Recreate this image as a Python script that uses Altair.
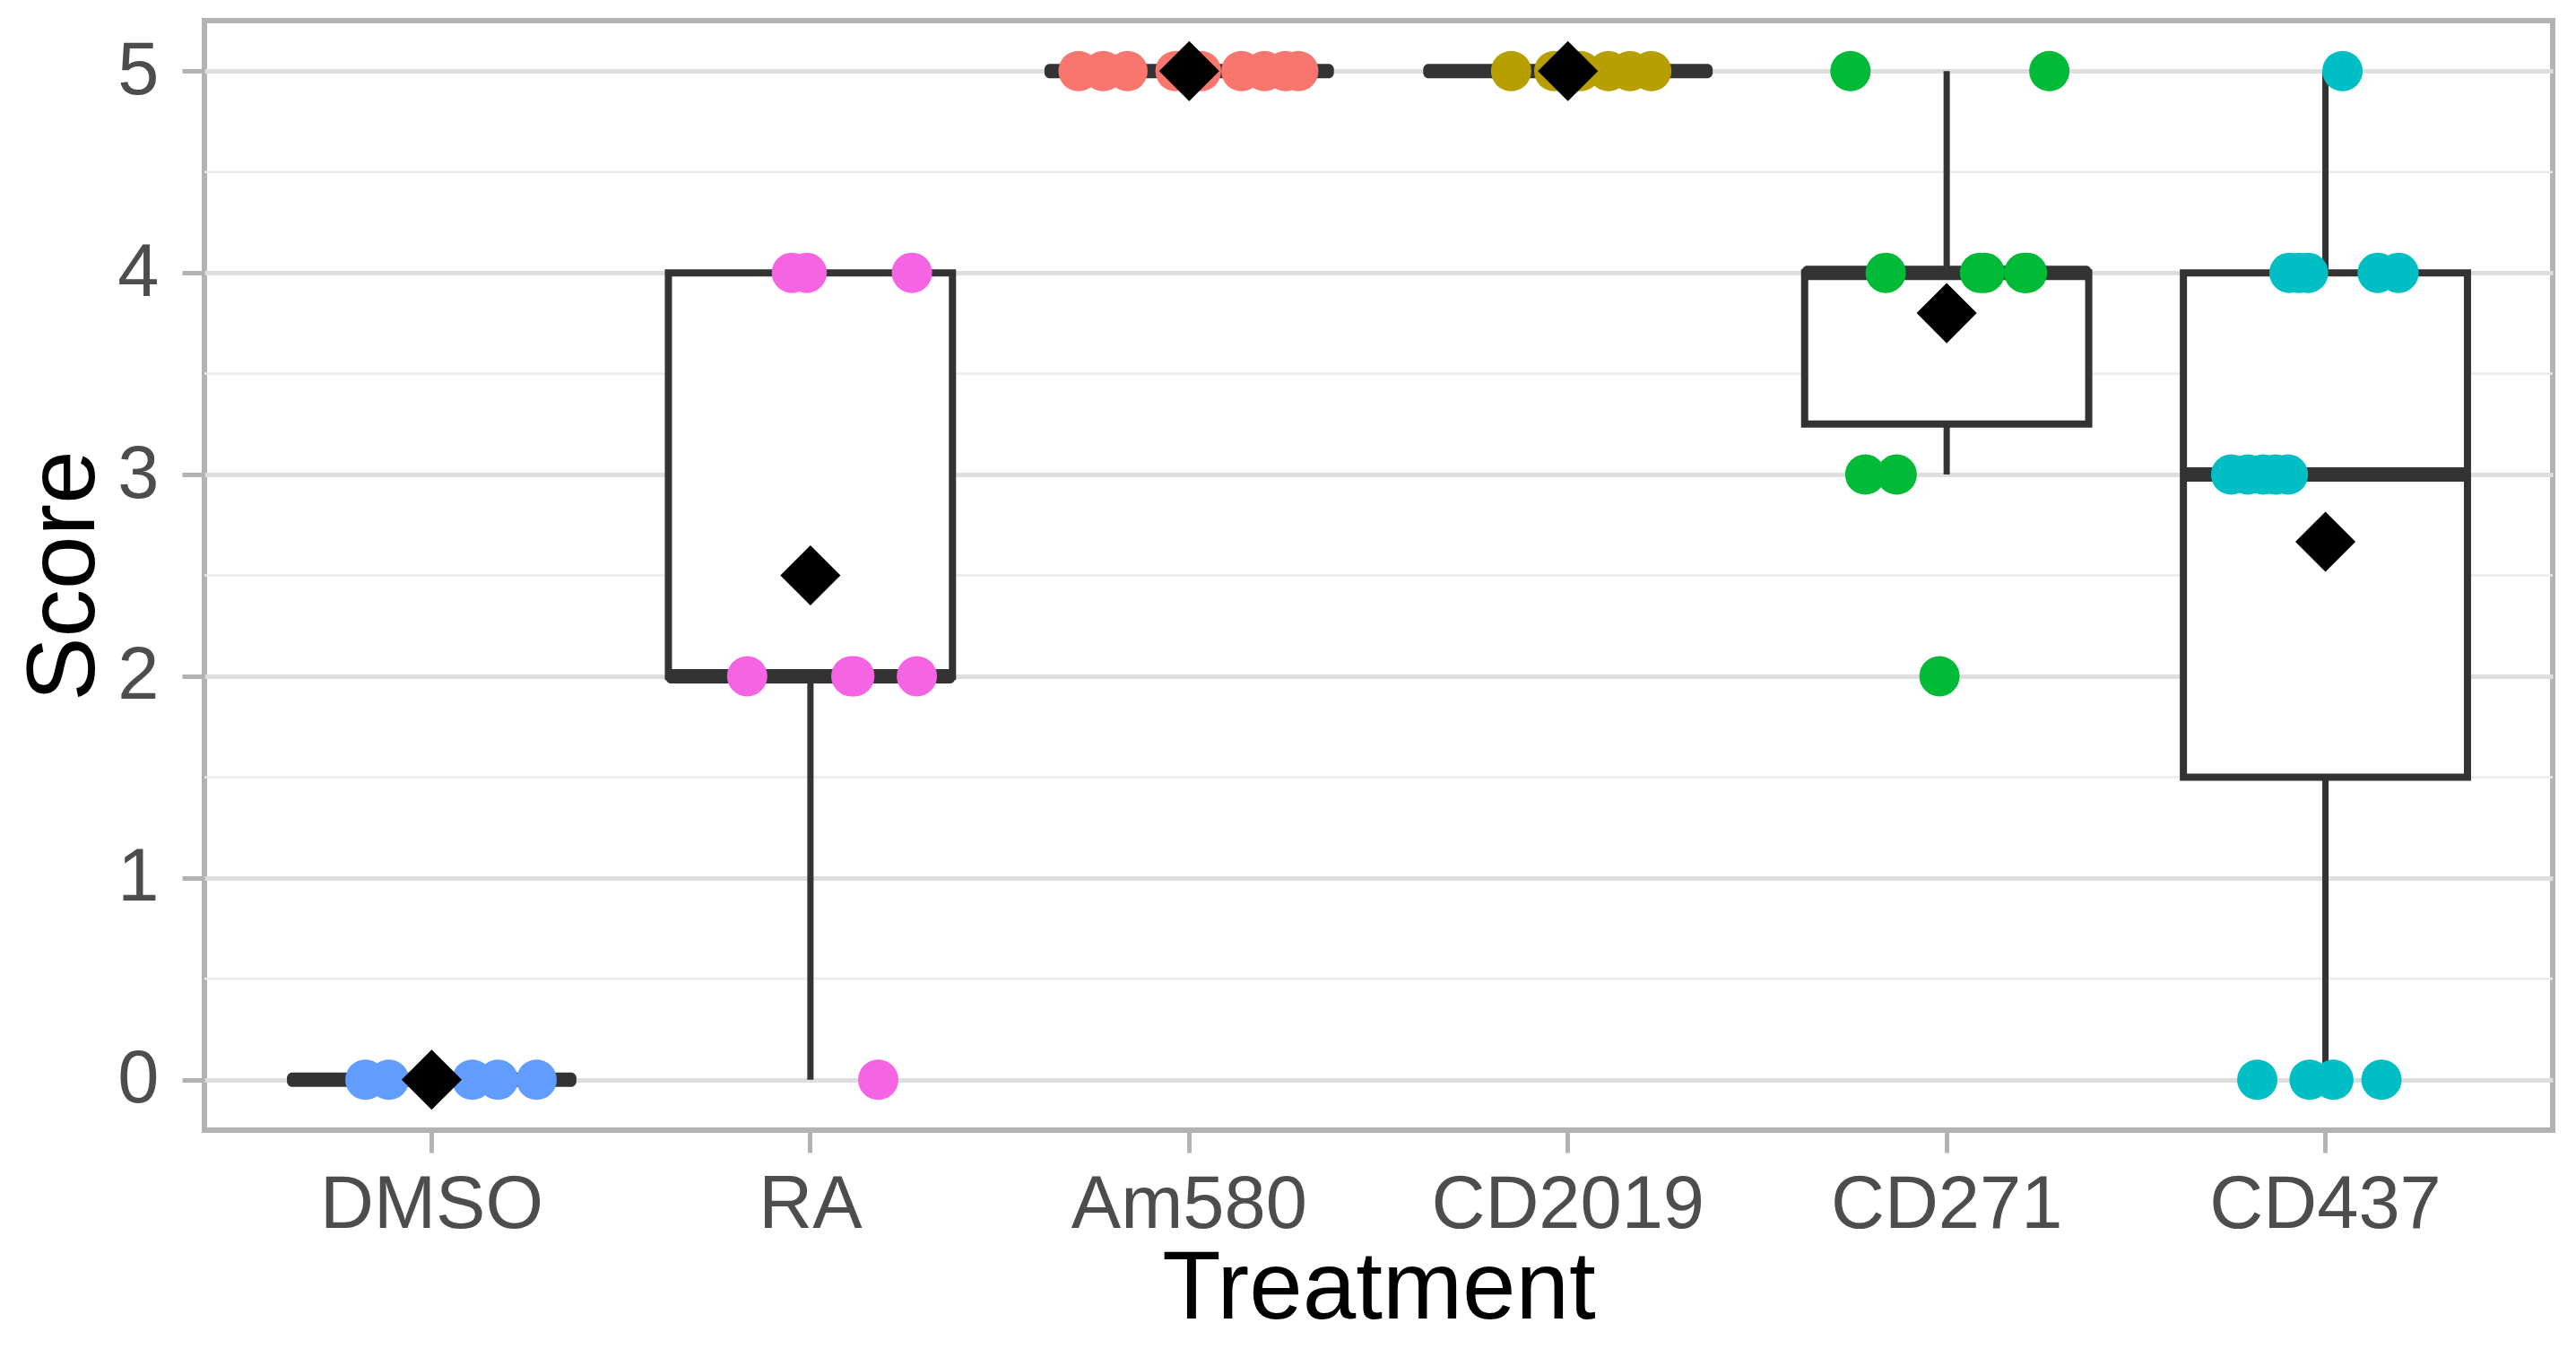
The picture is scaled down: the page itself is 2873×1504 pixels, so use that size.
import altair as alt
import pandas as pd

# ---- data ----
treatments = ["DMSO", "RA", "Am580", "CD2019", "CD271", "CD437"]
palette = ["#619CFF", "#F564E3", "#F8766D", "#B79F00", "#00BA38", "#00BFC4"]

dmso_scores = [0, 0, 0, 0, 0, 0]
dmso_jitter = [-0.175, -0.113, 0.0, 0.107, 0.175, 0.277]

ra_scores = [4, 4, 4, 2, 2, 2, 2, 0]
ra_jitter = [-0.049, -0.010, 0.268, -0.167, 0.108, 0.116, 0.281, 0.179]

am580_scores = [5, 5, 5, 5, 5, 5, 5, 5, 5]
am580_jitter = [-0.292, -0.227, -0.163, -0.036, 0.031, 0.138, 0.199, 0.254, 0.288]

cd2019_scores = [5, 5, 5, 5, 5, 5]
cd2019_jitter = [-0.150, -0.036, 0.033, 0.107, 0.164, 0.220]

cd271_scores = [5, 5, 4, 4, 4, 4, 4, 3, 3, 2]
cd271_jitter = [-0.254, 0.271, -0.161, 0.088, 0.100, 0.205, 0.212, -0.215, -0.132, -0.019]

cd437_scores = [5, 4, 4, 4, 4, 4, 3, 3, 3, 3, 3, 0, 0, 0, 0]
cd437_jitter = [0.045, -0.095, -0.070, -0.046, 0.138, 0.193,
                -0.249, -0.205, -0.164, -0.132, -0.099,
                -0.180, -0.042, 0.021, 0.148]

y_ticks = [0, 1, 2, 3, 4, 5]
minor_breaks = [0.5, 1.5, 2.5, 3.5, 4.5]

groups = [
    ("DMSO", dmso_scores, dmso_jitter),
    ("RA", ra_scores, ra_jitter),
    ("Am580", am580_scores, am580_jitter),
    ("CD2019", cd2019_scores, cd2019_jitter),
    ("CD271", cd271_scores, cd271_jitter),
    ("CD437", cd437_scores, cd437_jitter),
]
rows = []
for name, scores, jit in groups:
    for s, j in zip(scores, jit):
        rows.append({"treatment": name, "score": s, "jit": j})
df = pd.DataFrame(rows)
minor_df = pd.DataFrame({"minor": minor_breaks})

# ---- layout ----
W = 2619
H = 1237
STEP = W / 6.2
BOXW = 0.75 * STEP
FONT = "Liberation Sans"
DARK = "#333333"

yscale = alt.Scale(domain=[-0.25, 5.25], nice=False, zero=False)
yaxis = alt.Axis(values=y_ticks, title="Score", labelPadding=26,
                 titleX=-124, titleY=H / 2, titleBaseline="alphabetic",
                 titleAngle=270)
xscale = alt.Scale(domain=treatments, paddingInner=0, paddingOuter=0.1)
xaxis = alt.Axis(title="Treatment", labelAngle=0, bandPosition=0.5,
                 labelPadding=17, labelLimit=2000,
                 titleY=209, titleBaseline="alphabetic")

x_enc = alt.X("treatment:N", scale=xscale, axis=xaxis, sort=treatments)


def Y(field):
    return alt.Y(field, scale=yscale, axis=yaxis, title="Score")


minor = alt.Chart(minor_df).mark_rule(color="#EBEBEB", strokeWidth=2.5).encode(
    y=Y("minor:Q")
)

# box statistics (Tukey whiskers, 1.5 IQR) computed by Vega-Lite from the data
stats = alt.Chart(df).transform_joinaggregate(
    q1="q1(score)", q3="q3(score)", groupby=["treatment"]
).transform_calculate(
    lo="datum.score >= datum.q1 - 1.5 * (datum.q3 - datum.q1) ? datum.score : null",
    hi="datum.score <= datum.q3 + 1.5 * (datum.q3 - datum.q1) ? datum.score : null",
).transform_aggregate(
    q1="min(q1)", q3="min(q3)", med="median(score)",
    lower="min(lo)", upper="max(hi)", groupby=["treatment"]
)

whisk_lo = stats.mark_rule(color=DARK, strokeWidth=7).encode(
    x=x_enc, y=Y("lower:Q"), y2="q1:Q"
)
whisk_hi = stats.mark_rule(color=DARK, strokeWidth=7).encode(
    x=x_enc, y=Y("q3:Q"), y2="upper:Q"
)
boxes = stats.mark_bar(fill="white", stroke=DARK, strokeWidth=8,
                       size=BOXW, opacity=1).encode(
    x=x_enc, y=Y("q1:Q"), y2="q3:Q"
)
medians = stats.mark_tick(color=DARK, thickness=16, size=BOXW + 6, opacity=1,
                          cornerRadius=6).encode(
    x=x_enc, y=Y("med:Q")
)

points = alt.Chart(df).mark_circle(size=2025, opacity=1).encode(
    x=x_enc,
    xOffset=alt.XOffset("jit:Q", scale=alt.Scale(domain=[-0.5, 0.5], range=[0, STEP])),
    y=Y("score:Q"),
    color=alt.Color("treatment:N", scale=alt.Scale(domain=treatments, range=palette), legend=None),
)

means = alt.Chart(df).mark_point(shape="diamond", filled=True, color="black",
                                 size=4500, opacity=1).encode(
    x=x_enc,
    y=Y("mean(score):Q"),
)

chart = alt.layer(minor, whisk_lo, whisk_hi, boxes, medians, points, means).properties(
    width=W, height=H,
    autosize=alt.AutoSizeParams(type="none"),
    padding={"left": 220, "top": 15, "right": 10, "bottom": 232},
    background="white",
).configure_view(
    stroke="#B3B3B3", strokeWidth=6
).configure_axis(
    labelFont=FONT, labelFontSize=83, labelColor="#4D4D4D",
    titleFont=FONT, titleFontSize=107, titleColor="black", titleFontWeight="normal",
    tickColor="#B3B3B3", tickWidth=5, tickSize=25,
    domain=False, gridColor="#DEDEDE", gridWidth=5,
)

chart.save("out.html", embed_options={"renderer": "svg", "actions": False})
